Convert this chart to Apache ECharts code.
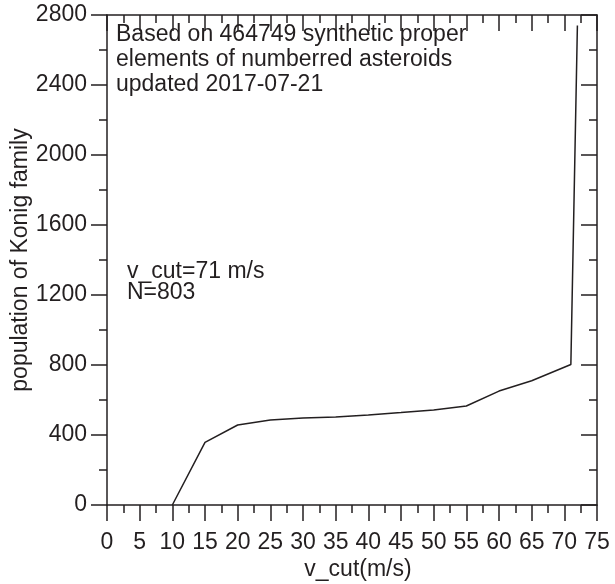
<!DOCTYPE html>
<html>
<head>
<meta charset="utf-8">
<script src="https://cdn.jsdelivr.net/npm/echarts@6/dist/echarts.min.js"></script>
<style>
html,body{margin:0;padding:0;background:#fff;}
#chart{width:615px;height:584px;}
</style>
</head>
<body>
<div id="chart"></div>
<script>
var vcut = [10, 15, 20, 25, 30, 35, 40, 45, 50, 55, 60, 65, 71, 72];
var population = [0, 358, 457, 486, 497, 503, 514, 528, 543, 566, 651, 710, 803, 2740];
var xTickLabels = ['0','5','10','15','20','25','30','35','40','45','50','55','60','65','70','75'];
var yTickLabels = ['0','400','800','1200','1600','2000','2400','2800'];
var noteLines = ['Based on 464749 synthetic proper', 'elements of numberred asteroids', 'updated 2017-07-21'];
var noteCut = 'v_cut=71 m/s';
var noteN = 'N=803';
var xName = 'v_cut(m/s)';
var yName = 'population of Konig family';

var ink = '#231f20';
var font = '"Liberation Sans", Arial, Helvetica, sans-serif';
var chart = echarts.init(document.getElementById('chart'), null, {renderer: 'canvas'});

function baseX(pos, show) {
  return {
    type: 'value', position: pos, min: 0, max: 75, interval: 5,
    axisLine: {show: true, onZero: false, lineStyle: {color: ink, width: 1.5}},
    axisTick: {show: true, inside: pos === 'top', length: 16, lineStyle: {color: ink, width: 1.5}},
    minorTick: {show: true, splitNumber: 2, length: 8, lineStyle: {color: ink, width: 1.5}},
    splitLine: {show: false},
    axisLabel: {show: show, margin: 26, fontSize: 23, fontFamily: font, color: ink,
      formatter: function (v) { return xTickLabels[Math.round(v / 5)]; }}
  };
}
function baseY(pos, show) {
  return {
    type: 'value', position: pos, min: 0, max: 2800, interval: 400,
    axisLine: {show: true, onZero: false, lineStyle: {color: ink, width: 1.5}},
    axisTick: {show: true, inside: pos === 'right', length: 16, lineStyle: {color: ink, width: 1.5}},
    minorTick: {show: true, splitNumber: 2, length: 8, lineStyle: {color: ink, width: 1.5}},
    splitLine: {show: false},
    axisLabel: {show: show, margin: 20, fontSize: 23, fontFamily: font, color: ink,
      formatter: function (v) { return yTickLabels[Math.round(v / 400)]; }}
  };
}

var xa = baseX('bottom', true);
xa.name = xName; xa.nameLocation = 'middle'; xa.nameGap = 53; xa.nameMoveOverlap = false;
xa.nameTextStyle = {fontSize: 23, fontFamily: font, color: ink, padding: [0, 0, 0, 12]};
var ya = baseY('left', true);
ya.name = yName; ya.nameLocation = 'middle'; ya.nameGap = 75; ya.nameMoveOverlap = false;
ya.nameTextStyle = {fontSize: 23, fontFamily: font, color: ink};

var noteStyle = {fontSize: 23, fontFamily: font, fill: ink};
chart.setOption({
  animation: false,
  backgroundColor: '#fff',
  grid: {left: 107, right: 18, top: 15, bottom: 79, containLabel: false, outerBoundsMode: 'none'},
  xAxis: [xa, baseX('top', false)],
  yAxis: [ya, baseY('right', false)],
  series: [{
    type: 'line',
    data: vcut.map(function (v, i) { return [v, population[i]]; }),
    showSymbol: false, symbol: 'none',
    lineStyle: {color: ink, width: 1.5},
    clip: false
  }],
  graphic: [
    {type: 'text', left: 116, top: 22, style: Object.assign({text: noteLines.join('\n'), lineHeight: 25}, noteStyle)},
    {type: 'text', left: 127, top: 260, style: Object.assign({text: noteCut}, noteStyle)},
    {type: 'text', left: 127, top: 281, style: Object.assign({text: noteN}, noteStyle)}
  ]
});
</script>
</body>
</html>
